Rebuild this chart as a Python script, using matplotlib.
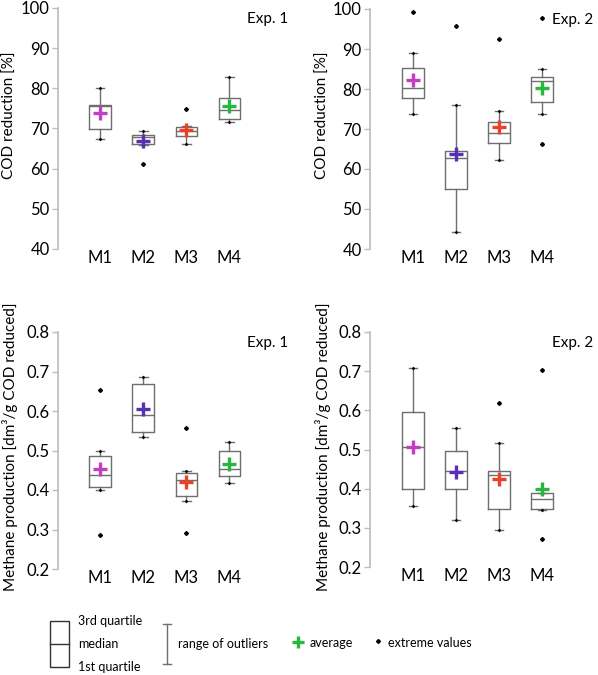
import matplotlib
matplotlib.use("Agg")
import matplotlib.pyplot as plt
from matplotlib.patches import Rectangle
from matplotlib.lines import Line2D

plt.rcParams['font.family'] = ['Lato', 'DejaVu Sans']

# --- data ---
categories = ["M1", "M2", "M3", "M4"]
mean_colors = ["#c23fc4", "#5631b3", "#ea4128", "#25b83c"]

cod1_whislo = [67.3, 65.8, 66.2, 71.7]
cod1_q1 = [69.9, 66.1, 68.2, 72.3]
cod1_med = [75.5, 68.0, 69.3, 74.6]
cod1_q3 = [75.8, 68.5, 70.3, 77.5]
cod1_whishi = [80.1, 69.3, 70.5, 82.7]
cod1_mean = [73.8, 66.8, 69.6, 75.5]
cod1_fliers = [[], [61.2], [74.8], []]

cod2_whislo = [73.8, 44.3, 62.3, 73.7]
cod2_q1 = [77.8, 55.0, 66.4, 76.8]
cod2_med = [80.3, 62.8, 69.0, 82.1]
cod2_q3 = [85.2, 64.6, 71.7, 83.1]
cod2_whishi = [89.1, 76.0, 74.4, 85.1]
cod2_mean = [82.2, 63.7, 70.4, 80.3]
cod2_fliers = [[99.2], [95.8], [92.6], [97.8, 66.2]]

ch4_1_whislo = [0.399, 0.535, 0.372, 0.417]
ch4_1_q1 = [0.407, 0.548, 0.385, 0.436]
ch4_1_med = [0.438, 0.589, 0.425, 0.452]
ch4_1_q3 = [0.485, 0.668, 0.443, 0.498]
ch4_1_whishi = [0.4995, 0.685, 0.448, 0.521]
ch4_1_mean = [0.452, 0.605, 0.420, 0.466]
ch4_1_fliers = [[0.652, 0.285], [], [0.558, 0.291], []]

ch4_2_whislo = [0.356, 0.319, 0.294, 0.346]
ch4_2_q1 = [0.399, 0.398, 0.347, 0.349]
ch4_2_med = [0.506, 0.446, 0.436, 0.373]
ch4_2_q3 = [0.596, 0.495, 0.445, 0.390]
ch4_2_whishi = [0.708, 0.555, 0.517, 0.390]
ch4_2_mean = [0.506, 0.443, 0.425, 0.399]
ch4_2_fliers = [[], [], [0.620], [0.704, 0.271]]

W, H = 598, 675
BOX_COLOR = "#6e6e6e"
AXIS_COLOR = "#bdbdbd"


def px_rect(left, top, right, bottom):
    return [left / W, 1 - bottom / H, (right - left) / W, (bottom - top) / H]


def draw_panel(ax, whislo, q1, med, q3, whishi, mean, fliers, ylim, yticks, ticklabels, xlim, title):
    stats = []
    for i in range(len(categories)):
        stats.append({"whislo": whislo[i], "q1": q1[i], "med": med[i], "q3": q3[i],
                      "whishi": whishi[i], "fliers": fliers[i], "label": categories[i]})
    pos = list(range(1, len(categories) + 1))
    line = dict(color=BOX_COLOR, linewidth=1.0)
    ax.bxp(stats, positions=pos, widths=0.5, capwidths=0.2,
           boxprops=line, whiskerprops=line, capprops=line,
           medianprops=line,
           flierprops=dict(marker="D", markersize=2.0, markerfacecolor="black",
                           markeredgecolor="black", linestyle="none"))
    # dots at whisker ends
    ax.scatter(pos, whislo, s=3.5, marker="D", color="black", zorder=4, linewidths=0)
    ax.scatter(pos, whishi, s=3.5, marker="D", color="black", zorder=4, linewidths=0)
    # averages
    for p, m, c in zip(pos, mean, mean_colors):
        ax.plot(p, m, marker="+", markersize=10, markeredgewidth=2.4, color=c, zorder=5)

    ax.set_xlim(*xlim)
    ax.set_ylim(*ylim)
    ax.set_yticks(yticks)
    ax.set_yticklabels(ticklabels)
    for s in ["top", "right", "bottom"]:
        ax.spines[s].set_visible(False)
    ax.spines["left"].set_color(AXIS_COLOR)
    ax.spines["left"].set_linewidth(1.2)
    ax.tick_params(axis="y", length=4, width=1.0, color=AXIS_COLOR, labelsize=12, pad=2)
    ax.tick_params(axis="x", length=0, labelsize=12, pad=1)
    ax.set_facecolor("none")
    ax.text(0.985, 0.985, title, transform=ax.transAxes, ha="right", va="top", fontsize=11)


fig = plt.figure(figsize=(W / 100, H / 100), dpi=100)

cod_ticks = [40, 50, 60, 70, 80, 90, 100]
cod_labels = [str(t) for t in cod_ticks]
ch4_ticks = [0.2, 0.3, 0.4, 0.5, 0.6, 0.7, 0.8]
ch4_labels = ["%.1f" % t for t in ch4_ticks]

ax1 = fig.add_axes(px_rect(58, 8, 292, 249))
draw_panel(ax1, cod1_whislo, cod1_q1, cod1_med, cod1_q3, cod1_whishi, cod1_mean, cod1_fliers,
           (40, 100), cod_ticks, cod_labels, (0.023, 5.45), "Exp. 1")

ax2 = fig.add_axes(px_rect(370, 9, 597, 249))
draw_panel(ax2, cod2_whislo, cod2_q1, cod2_med, cod2_q3, cod2_whishi, cod2_mean, cod2_fliers,
           (40, 100), cod_ticks, cod_labels, (0.0, 5.28), "Exp. 2")

ax3 = fig.add_axes(px_rect(58, 332, 292, 569))
draw_panel(ax3, ch4_1_whislo, ch4_1_q1, ch4_1_med, ch4_1_q3, ch4_1_whishi, ch4_1_mean, ch4_1_fliers,
           (0.2, 0.8), ch4_ticks, ch4_labels, (0.023, 5.45), "Exp. 1")

ax4 = fig.add_axes(px_rect(370, 332, 597, 567))
draw_panel(ax4, ch4_2_whislo, ch4_2_q1, ch4_2_med, ch4_2_q3, ch4_2_whishi, ch4_2_mean, ch4_2_fliers,
           (0.2, 0.8), ch4_ticks, ch4_labels, (0.0, 5.28), "Exp. 2")

# y axis labels
cod_label = "COD reduction [%]"
ch4_label = "Methane production [dm\u00b3/g COD reduced]"
fig.text(10 / W, 1 - 115 / H, cod_label, rotation=90, ha="center", va="center", fontsize=11)
fig.text(323 / W, 1 - 115 / H, cod_label, rotation=90, ha="center", va="center", fontsize=11)
fig.text(10 / W, 1 - 447 / H, ch4_label, rotation=90, ha="center", va="center", fontsize=11)
fig.text(323 / W, 1 - 447 / H, ch4_label, rotation=90, ha="center", va="center", fontsize=11)

# --- legend drawn in pixel coordinates ---
lax = fig.add_axes([0, 0, 1, 1])
lax.set_xlim(0, W)
lax.set_ylim(H, 0)
lax.axis("off")
lax.add_patch(Rectangle((50, 621), 19, 46, fill=False, edgecolor="#333333", linewidth=1.0))
lax.add_line(Line2D([50, 69], [644, 644], color="#333333", linewidth=1.0))
lax.text(78, 621, "3rd quartile", ha="left", va="center", fontsize=9)
lax.text(78, 644, "median", ha="left", va="center", fontsize=9)
lax.text(78, 667, "1st quartile", ha="left", va="center", fontsize=9)
lax.add_line(Line2D([167, 167], [624, 664], color=BOX_COLOR, linewidth=1.0))
lax.add_line(Line2D([163, 171], [624, 624], color=BOX_COLOR, linewidth=1.0))
lax.add_line(Line2D([163, 171], [664, 664], color=BOX_COLOR, linewidth=1.0))
lax.text(178, 644, "range of outliers", ha="left", va="center", fontsize=9)
lax.plot(298, 642, marker="+", markersize=9, markeredgewidth=2.4, color=mean_colors[3])
lax.text(310, 643, "average", ha="left", va="center", fontsize=9)
lax.plot(378, 641, marker="D", markersize=2.0, color="black")
lax.text(388, 643, "extreme values", ha="left", va="center", fontsize=9)

fig.savefig("out.png", dpi=100)
